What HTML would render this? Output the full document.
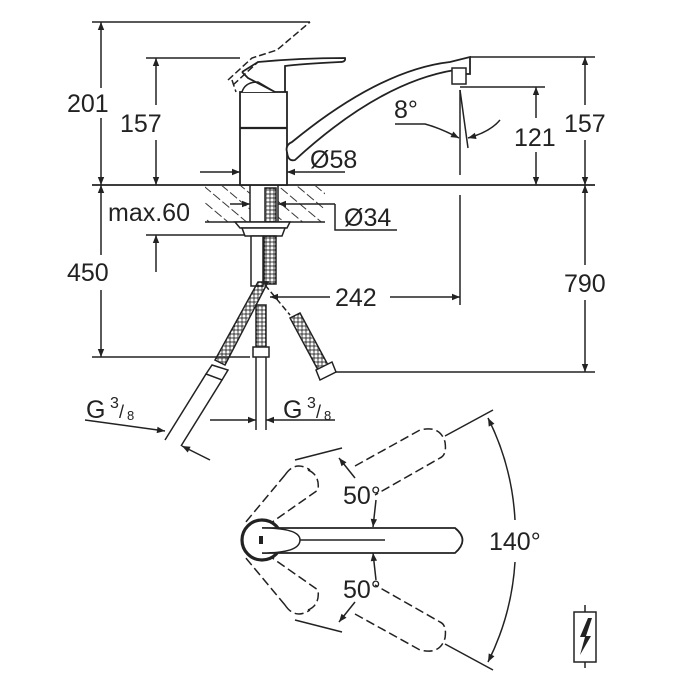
<!DOCTYPE html>
<html><head><meta charset="utf-8"><style>
html,body{margin:0;padding:0;background:#fff;}
svg{display:block;}
text{font-family:"Liberation Sans",sans-serif;fill:#222;}
</style></head><body>
<svg width="700" height="700" viewBox="0 0 700 700" xmlns="http://www.w3.org/2000/svg">
<defs>
<marker id="a" viewBox="0 0 10 10" refX="10" refY="5" markerWidth="11" markerHeight="8" orient="auto-start-reverse" markerUnits="userSpaceOnUse"><path d="M0,1 L10,5 L0,9 z" fill="#222"/></marker>
<pattern id="h" width="12" height="12" patternUnits="userSpaceOnUse" patternTransform="rotate(-50)"><line x1="0" y1="0" x2="0" y2="12" stroke="#222" stroke-width="1.8" stroke-dasharray="9 3"/></pattern>
<pattern id="b" width="4" height="4" patternUnits="userSpaceOnUse"><circle cx="2" cy="2" r="1.1" fill="none" stroke="#222" stroke-width="0.9"/></pattern>
</defs>
<g stroke="#222" stroke-width="1.5" fill="none">
<line x1="92" y1="22" x2="310" y2="22"/>
<line x1="146" y1="58" x2="240" y2="58"/>
<line x1="92" y1="185" x2="595" y2="185" stroke-width="1.8"/>
<line x1="470" y1="57" x2="595" y2="57"/>
<line x1="460" y1="87" x2="545" y2="87"/>
<line x1="92" y1="357" x2="250" y2="357"/>
<line x1="330" y1="372" x2="595" y2="372"/>
<line x1="146" y1="235" x2="245" y2="235"/>
<line x1="101" y1="22" x2="101" y2="88" marker-start="url(#a)"/>
<line x1="101" y1="118" x2="101" y2="185" marker-end="url(#a)"/>
<line x1="156" y1="58" x2="156" y2="105" marker-start="url(#a)"/>
<line x1="156" y1="140" x2="156" y2="185" marker-end="url(#a)"/>
<line x1="101" y1="185" x2="101" y2="255" marker-start="url(#a)"/>
<line x1="101" y1="290" x2="101" y2="357" marker-end="url(#a)"/>
<line x1="156" y1="272" x2="156" y2="235" marker-end="url(#a)"/>
<line x1="585" y1="57" x2="585" y2="105" marker-start="url(#a)"/>
<line x1="585" y1="140" x2="585" y2="185" marker-end="url(#a)"/>
<line x1="585" y1="185" x2="585" y2="265" marker-start="url(#a)"/>
<line x1="585" y1="300" x2="585" y2="372" marker-end="url(#a)"/>
<line x1="536" y1="87" x2="536" y2="118" marker-start="url(#a)"/>
<line x1="536" y1="152" x2="536" y2="185" marker-end="url(#a)"/>
<line x1="460" y1="90" x2="460" y2="175"/>
<line x1="460" y1="195" x2="460" y2="305"/>
<line x1="460" y1="90" x2="468" y2="148"/>
<path d="M395,124 L425,124 Q440,128 459,138" marker-end="url(#a)"/>
<path d="M500,120 Q490,132 468,138" marker-end="url(#a)"/>
<line x1="330" y1="297" x2="270" y2="297" marker-end="url(#a)"/>
<line x1="390" y1="297" x2="460" y2="297" marker-end="url(#a)"/>
<line x1="200" y1="172" x2="240" y2="172" marker-end="url(#a)"/>
<line x1="345" y1="172" x2="287" y2="172" marker-end="url(#a)"/>
<line x1="230" y1="204" x2="250" y2="204" marker-end="url(#a)"/>
<line x1="335" y1="204" x2="278" y2="204" marker-end="url(#a)"/>
<polyline points="335,204 335,230 397,230"/>
<rect x="205" y="186" width="120" height="36" fill="url(#h)" stroke="none"/>
<line x1="205" y1="222" x2="325" y2="222"/>
<rect x="250" y="185" width="28" height="37" fill="#fff"/>
<rect x="265" y="188" width="11" height="34" fill="url(#b)"/>
<path d="M235,222 L290,222 L287,228 L240,228 z" fill="#fff"/>
<path d="M242,228 L285,228 L282,236 L245,236 z" fill="#fff"/>
<rect x="240" y="92" width="47" height="93" fill="#fff" stroke-width="1.8"/>
<line x1="240" y1="128" x2="287" y2="128" stroke-width="2.2"/>
<path d="M242,92 Q245,82 258,82 L275,92" fill="#fff"/>
<path d="M242,72 L258,62 Q300,58 345,58 Q346,62 340,62 Q300,64 285,66 L285,92 M242,72 L248,78 L275,92" stroke-width="1.8"/>
<path d="M228,80 L252,58 L277,50 L310,22 M233,85 L258,62 M232,80 L236,92" stroke-dasharray="7 3"/>
<path d="M287,152 Q285,145 292,142 Q380,70 450,62 L470,57 L470,74 L458,74 L455,70 Q380,82 295,160 Q288,162 287,152" fill="#fff" stroke-width="1.8"/>
<rect x="452" y="68" width="14" height="16" fill="#fff"/>
<rect x="251" y="236" width="12" height="50" fill="#fff"/>
<rect x="264" y="236" width="12" height="48" fill="url(#b)"/>
<path d="M258,282 L268,282 L225,365 L215,360 z" fill="url(#b)"/>
<path d="M212,365 L228,370 L222,380 L206,374 z" fill="#fff"/>
<line x1="206" y1="374" x2="165" y2="440"/>
<line x1="222" y1="380" x2="181" y2="446"/>
<rect x="256" y="305" width="10" height="42" fill="url(#b)"/>
<rect x="253" y="347" width="16" height="10" fill="#fff"/>
<line x1="256" y1="357" x2="256" y2="430"/>
<line x1="266" y1="357" x2="266" y2="430"/>
<line x1="265" y1="285" x2="290" y2="315" stroke-dasharray="6 3"/>
<path d="M290,318 L300,313 L328,365 L318,370 z" fill="url(#b)"/>
<path d="M316,370 L332,362 L336,372 L320,380 z" fill="#fff"/>
<line x1="85" y1="420" x2="165" y2="431" marker-end="url(#a)"/>
<line x1="210" y1="460" x2="182" y2="446" marker-end="url(#a)"/>
<line x1="210" y1="420" x2="256" y2="420" marker-end="url(#a)"/>
<line x1="335" y1="420" x2="266" y2="420" marker-end="url(#a)"/>
<g stroke-dasharray="9 4">
<path d="M308,470 Q320,475 318,490 L268,525 M285,475 Q295,460 310,470 M285,475 L245,523"/>
<path d="M308,610 Q320,605 318,590 L268,555 M285,605 Q295,620 310,610 M285,605 L245,557"/>
<path d="M355,466 L420,430 Q440,425 445,442 Q447,455 440,458 L375,495"/>
<path d="M355,614 L420,650 Q440,655 445,638 Q447,625 440,622 L375,585"/>
</g>
<circle cx="262" cy="540" r="20" stroke-width="3.2" fill="#fff"/>
<path d="M262,528 L455,528 Q470,540 455,553 L262,553" fill="#fff" stroke-width="1.8"/>
<path d="M262,528 Q300,528 300,540 Q300,553 262,553" fill="#fff"/>
<rect x="259" y="536" width="4" height="8" fill="#222" stroke="none"/>
<line x1="300" y1="540" x2="385" y2="540"/>
<line x1="376" y1="500" x2="373" y2="527" marker-end="url(#a)"/>
<line x1="376" y1="580" x2="373" y2="553" marker-end="url(#a)"/>
<line x1="295" y1="460" x2="342" y2="448"/>
<line x1="295" y1="620" x2="342" y2="632"/>
<line x1="355" y1="478" x2="339" y2="458" marker-end="url(#a)"/>
<line x1="355" y1="602" x2="339" y2="622" marker-end="url(#a)"/>
<line x1="445" y1="436" x2="493" y2="410"/>
<line x1="445" y1="644" x2="493" y2="670"/>
<path d="M488,418 A258,258 0 0 1 515,520" marker-start="url(#a)"/>
<path d="M515,562 A258,258 0 0 1 488,662" marker-end="url(#a)"/>
<rect x="574" y="612" width="22" height="50"/>
<line x1="585" y1="605" x2="585" y2="612"/>
<line x1="585" y1="662" x2="585" y2="668"/>
<path d="M588,618 L580,637 L585,637 L580,655 L591,636 L586,636 L592,618 z" fill="#222" stroke="none"/>
</g>
<g font-size="25">
<text x="67" y="112">201</text>
<text x="120" y="132">157</text>
<text x="108" y="221">max.60</text>
<text x="67" y="281">450</text>
<text x="310" y="168">Ø58</text>
<text x="344" y="226">Ø34</text>
<text x="335" y="306">242</text>
<text x="394" y="118">8°</text>
<text x="514" y="146">121</text>
<text x="564" y="132">157</text>
<text x="564" y="292">790</text>
<text x="86" y="418">G</text><text x="110" y="408" font-size="16">3</text><text x="119" y="418" font-size="18">/</text><text x="127" y="420" font-size="13">8</text>
<text x="283" y="418">G</text><text x="307" y="408" font-size="16">3</text><text x="316" y="418" font-size="18">/</text><text x="324" y="420" font-size="13">8</text>
<text x="343" y="504">50°</text>
<text x="343" y="598">50°</text>
<text x="489" y="550">140°</text>
</g>
</svg>
</body></html>
